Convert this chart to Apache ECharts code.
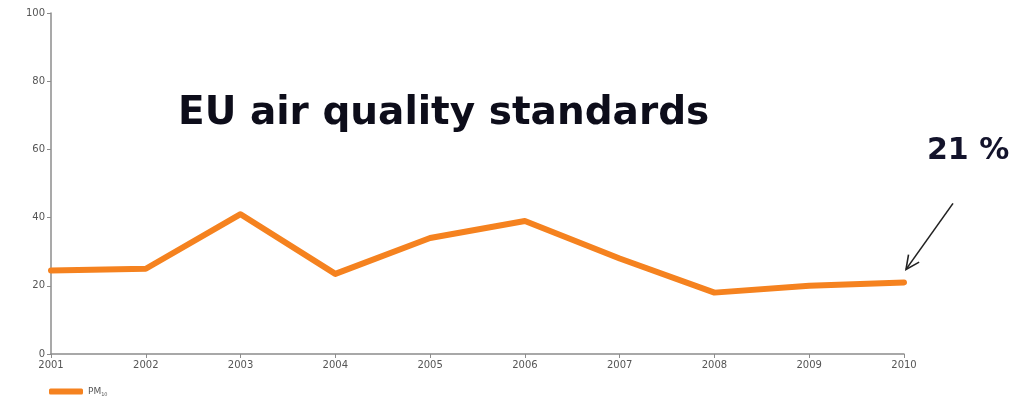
<!DOCTYPE html>
<html>
<head>
<meta charset="utf-8">
<script src="https://cdn.jsdelivr.net/npm/echarts@6/dist/echarts.min.js"></script>
<style>
  html, body { margin: 0; padding: 0; background: #fff; }
  #chart { width: 1024px; height: 406px; }
</style>
</head>
<body>
<div id="chart"></div>
<script>
// Share of urban population exposed above the PM10 limit value (%)
const years = ['2001', '2002', '2003', '2004', '2005', '2006', '2007', '2008', '2009', '2010'];
const pm10 = [24.5, 25, 41, 23.5, 34, 39, 28, 18, 20, 21];
const yTicks = { min: 0, max: 100, interval: 20 };
const headline = 'EU air quality standards';
const lastLabel = '21 %';

const orange = '#F5821F';
const axisGrey = '#8c8c8c';

const chart = echarts.init(document.getElementById('chart'), null, { renderer: 'canvas' });

chart.setOption({
  animation: false,
  backgroundColor: '#fff',
  grid: { left: 51, right: 120, top: 13, bottom: 52 },
  title: {
    text: headline,
    left: 173,
    top: 89,
    textStyle: { fontFamily: 'DejaVu Sans', fontWeight: 'bold', fontSize: 39, color: '#0d0d1a' }
  },
  legend: {
    left: 44,
    bottom: 4,
    itemWidth: 34,
    itemHeight: 6,
    itemGap: 8,
    icon: 'roundRect',
    formatter: () => 'PM{sub|10}',
    textStyle: {
      fontFamily: 'DejaVu Sans', fontSize: 9, color: '#555',
      rich: { sub: { fontSize: 5, color: '#555', verticalAlign: 'bottom', padding: [6, 0, 0, 0] } }
    },
    data: ['PM10']
  },
  xAxis: {
    type: 'category',
    data: years,
    boundaryGap: false,
    axisLine: { lineStyle: { color: axisGrey, width: 1.5 } },
    axisTick: { show: true, alignWithLabel: true, length: 4, lineStyle: { color: axisGrey } },
    axisLabel: { fontFamily: 'DejaVu Sans', fontSize: 10, color: '#555', margin: 6 },
    splitLine: { show: false }
  },
  yAxis: {
    type: 'value',
    min: yTicks.min,
    max: yTicks.max,
    interval: yTicks.interval,
    axisLine: { show: true, lineStyle: { color: axisGrey, width: 1.5 } },
    axisTick: { show: true, length: 4, lineStyle: { color: axisGrey } },
    axisLabel: { fontFamily: 'DejaVu Sans', fontSize: 10, color: '#555', margin: 6 },
    splitLine: { show: false }
  },
  series: [{
    name: 'PM10',
    type: 'line',
    data: pm10,
    symbol: 'none',
    color: orange,
    lineStyle: { color: orange, width: 6, cap: 'round', join: 'round' }
  }]
});

// Annotation arrow and value tag for the final year, placed from the data point
const endPt = chart.convertToPixel({ seriesIndex: 0 }, [years.length - 1, pm10[pm10.length - 1]]);
const tip = [endPt[0] + 2, endPt[1] - 13];
const tail = [tip[0] + 47, tip[1] - 66];
const ang = Math.atan2(tip[1] - tail[1], tip[0] - tail[0]);
const headLen = 15, headSpread = 0.45;
const wing = s => [tip[0] - headLen * Math.cos(ang + s * headSpread), tip[1] - headLen * Math.sin(ang + s * headSpread)];

chart.setOption({
  graphic: [
    {
      type: 'line',
      shape: { x1: tail[0], y1: tail[1], x2: tip[0], y2: tip[1] },
      style: { stroke: '#222', lineWidth: 1.6 }
    },
    {
      type: 'polyline',
      shape: { points: [wing(1), tip, wing(-1)] },
      style: { stroke: '#222', lineWidth: 1.6, fill: null }
    },
    {
      type: 'text',
      left: tip[0] + 21,
      top: tip[1] - 133,
      style: { text: lastLabel, fontFamily: 'DejaVu Sans', fontWeight: 'bold', fontSize: 30, fill: '#13132b' }
    }
  ]
});
</script>
</body>
</html>
